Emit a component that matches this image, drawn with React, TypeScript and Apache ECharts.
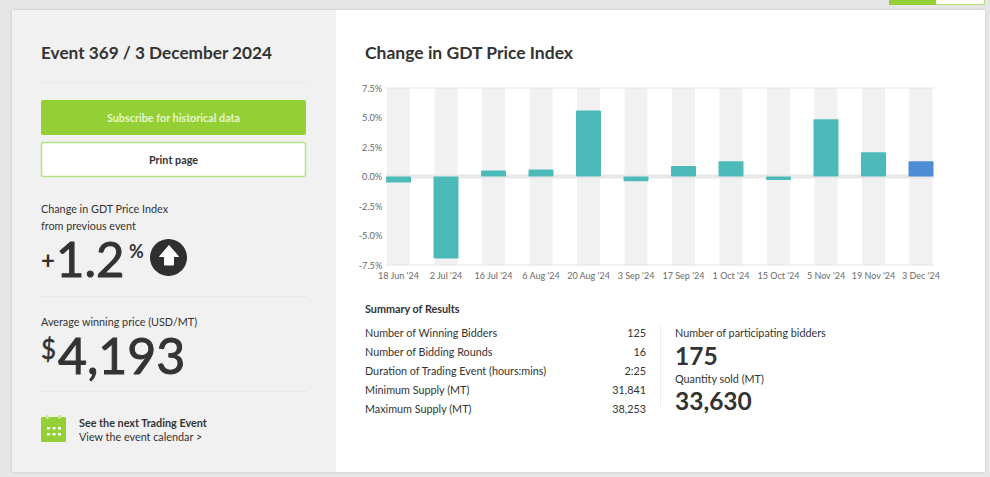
import React, { useEffect, useRef } from "react";
import * as echarts from "echarts";

const categories = ["18 Jun '24", "2 Jul '24", "16 Jul '24", "6 Aug '24", "20 Aug '24", "3 Sep '24", "17 Sep '24", "1 Oct '24", "15 Oct '24", "5 Nov '24", "19 Nov '24", "3 Dec '24"];
const changeValues = [-0.5, -6.95, 0.5, 0.6, 5.6, -0.4, 0.9, 1.3, -0.3, 4.85, 2.05, 1.3];
const summaryLabels = ["Number of Winning Bidders", "Number of Bidding Rounds", "Duration of Trading Event (hours:mins)", "Minimum Supply (MT)", "Maximum Supply (MT)"];
const summaryValues = ["125", "16", "2:25", "31,841", "38,253"];
const summaryRowY = [332.5, 351.5, 370.5, 389.5, 408.5];

const FONT = "Lato, 'Noto Sans', sans-serif";
const DARK = "#333333";
const GREEN = "#94d035";
const TEAL = "#4dbaba";
const BLUE = "#4f8cd6";
const BODY = 10.8;

function txt(text: string, x: number, y: number, size: number, opts: any = {}) {
  return {
    type: "text",
    z: 20,
    x,
    y,
    style: {
      text,
      fontFamily: FONT,
      fontSize: size,
      fontWeight: opts.weight ?? "normal",
      fill: opts.fill ?? DARK,
      align: opts.align ?? "left",
      verticalAlign: "middle",
      lineHeight: opts.lineHeight,
      stroke: opts.heavy ? (opts.fill ?? DARK) : undefined,
      lineWidth: opts.heavy ?? 0,
    },
  };
}

function rect(x: number, y: number, width: number, height: number, fill: string, opts: any = {}) {
  return {
    type: "rect",
    z: opts.z ?? 0,
    shape: { x, y, width, height, r: opts.r ?? 0 },
    style: { fill, stroke: opts.stroke, lineWidth: opts.lineWidth ?? 0, shadowBlur: opts.shadowBlur ?? 0, shadowColor: opts.shadowColor },
  };
}

function dotted(y: number) {
  return {
    type: "line",
    z: 1,
    shape: { x1: 41, y1: y, x2: 306, y2: y },
    style: { stroke: "#d4d4d4", lineWidth: 1, lineDash: [1, 3] },
  };
}

export default function App() {
  const ref = useRef<HTMLDivElement>(null);

  useEffect(() => {
    document.body.style.margin = "0";
    document.body.style.overflow = "hidden";
    const chart = echarts.init(ref.current!, undefined, { renderer: "svg", width: 990, height: 477 });
    chart.setOption({
      animation: false,
      backgroundColor: "#e6e6e6",
      grid: { left: 374.75, width: 570, top: 88, height: 177, containLabel: false },
      xAxis: [
        {
          type: "category",
          data: categories,
          position: "bottom",
          axisLine: { show: false },
          axisTick: { show: false },
          axisLabel: { interval: 0, color: "#6a6a6a", fontFamily: FONT, fontSize: 9, margin: 6 },
        },
        { type: "category", data: categories, show: false },
      ],
      yAxis: {
        type: "value",
        min: -7.5,
        max: 7.5,
        interval: 2.5,
        splitLine: { show: false },
        axisLine: { show: false },
        axisTick: { show: false },
        axisLabel: {
          color: "#6a6a6a",
          fontFamily: FONT,
          fontSize: 9.2,
          margin: -7.5,
          formatter: (v: number) => v.toFixed(1) + "%",
        },
      },
      series: [
        {
          name: "Band",
          type: "bar",
          xAxisIndex: 1,
          z: 2,
          barWidth: 23,
          silent: true,
          data: changeValues,
          itemStyle: { color: "transparent" },
          showBackground: true,
          backgroundStyle: { color: "#f1f1f1" },
        },
        {
          name: "Change in GDT Price Index",
          type: "bar",
          xAxisIndex: 0,
          z: 5,
          barWidth: 25,
          data: changeValues.map((value, i) => ({
            value,
            itemStyle: { color: i === changeValues.length - 1 ? BLUE : TEAL, borderRadius: 1 },
          })),
        },
      ],
    });

    const yOf = (v: number) => chart.convertToPixel({ yAxisIndex: 0 }, v) as number;
    const plotLine = (v: number, width: number, color: string) => ({
      type: "line",
      z: 3,
      shape: { x1: 386, y1: yOf(v), x2: 934, y2: yOf(v) },
      style: { stroke: color, lineWidth: width },
    });

    const calendarDots: any[] = [];
    [[47, 427], [52.5, 427], [58, 427], [47, 433], [52.5, 433], [58, 433]].forEach(([x, y]) => {
      calendarDots.push(rect(x, y, 3, 2.5, "#ffffff", { z: 3 }));
    });

    chart.setOption({
      graphic: {
        elements: [
          rect(12, 10, 973, 462, "#ffffff", { shadowBlur: 3, shadowColor: "rgba(0,0,0,0.15)" }),
          rect(12, 10, 324, 462, "#f1f1f1", { z: 1 }),
          rect(889, 0, 47, 5, GREEN, { z: 1 }),
          rect(936, 0, 48, 4, "#ffffff", { z: 1 }),
          rect(936, 4, 48, 1, "#b5e07f", { z: 1 }),
          rect(984, 0, 1, 5, "#b5e07f", { z: 1 }),
          dotted(82.5),
          dotted(296.5),
          dotted(391.5),
          rect(41, 100, 265, 35, GREEN, { z: 1, r: 2 }),
          rect(41.5, 142.5, 264, 34, "#ffffff", { z: 1, r: 2, stroke: "#b7e283", lineWidth: 1.5 }),
          plotLine(7.5, 1, "#e6e6e6"),
          plotLine(-7.5, 1, "#e6e6e6"),
          plotLine(0, 4, "#e8e8e8"),
          txt("Event 369 / 3 December 2024", 41, 52.5, 17.2, { weight: "bold" }),
          txt("Subscribe for historical data", 173.5, 117, BODY, { weight: "bold", fill: "#e6f5ce", align: "center" }),
          txt("Print page", 173.5, 159.5, BODY, { weight: "bold", align: "center" }),
          txt("Change in GDT Price Index", 41, 208.5, BODY),
          txt("from previous event", 41, 225, BODY),
          txt("+", 41, 259, 24, { weight: "bold" }),
          txt("1.2", 56, 258, 49, { heavy: 1, lineHeight: 36 }),
          txt("%", 129, 250.5, 18, { weight: "bold", lineHeight: 16 }),
          { type: "circle", z: 5, shape: { cx: 168.5, cy: 257.5, r: 18.5 }, style: { fill: "#2f2f2f" } },
          {
            type: "polygon",
            z: 6,
            shape: { points: [[169, 245.5], [178.5, 256.5], [173.5, 256.5], [173.5, 265], [164.5, 265], [164.5, 256.5], [159.5, 256.5]] },
            style: { fill: "#ffffff", stroke: "#ffffff", lineWidth: 1, lineJoin: "round" },
          },
          txt("Average winning price (USD/MT)", 41, 321.5, BODY),
          txt("$", 41, 349, 26, { heavy: 0.5, lineHeight: 26 }),
          txt("4,193", 58, 355, 50, { heavy: 1, lineHeight: 36 }),
          rect(41, 417, 25, 25, GREEN, { z: 2, r: 1.5 }),
          rect(46, 415, 3, 4, "#c9e99a", { z: 3, r: 1 }),
          rect(58, 415, 3, 4, "#c9e99a", { z: 3, r: 1 }),
          ...calendarDots,
          txt("See the next Trading Event", 79, 422.5, BODY, { weight: "bold" }),
          txt("View the event calendar >", 79, 436, BODY),
          txt("Change in GDT Price Index", 365, 52.5, 17.5, { weight: "bold" }),
          txt("Summary of Results", 365, 308, BODY, { weight: "bold" }),
          ...summaryLabels.map((label, i) => txt(label, 365, summaryRowY[i], BODY)),
          ...summaryValues.map((value, i) => txt(value, 646, summaryRowY[i], BODY, { align: "right" })),
          { type: "line", z: 1, shape: { x1: 660.5, y1: 325, x2: 660.5, y2: 407 }, style: { stroke: "#eeeeee", lineWidth: 1 } },
          txt("Number of participating bidders", 675, 332.5, BODY),
          txt("175", 675, 355, 24.5, { weight: "bold", lineHeight: 18 }),
          txt("Quantity sold (MT)", 675, 378.5, BODY),
          txt("33,630", 675, 400, 24.5, { weight: "bold", lineHeight: 18 }),
        ],
      },
    });

    return () => chart.dispose();
  }, []);

  return <div ref={ref} style={{ width: 990, height: 477 }} />;
}
